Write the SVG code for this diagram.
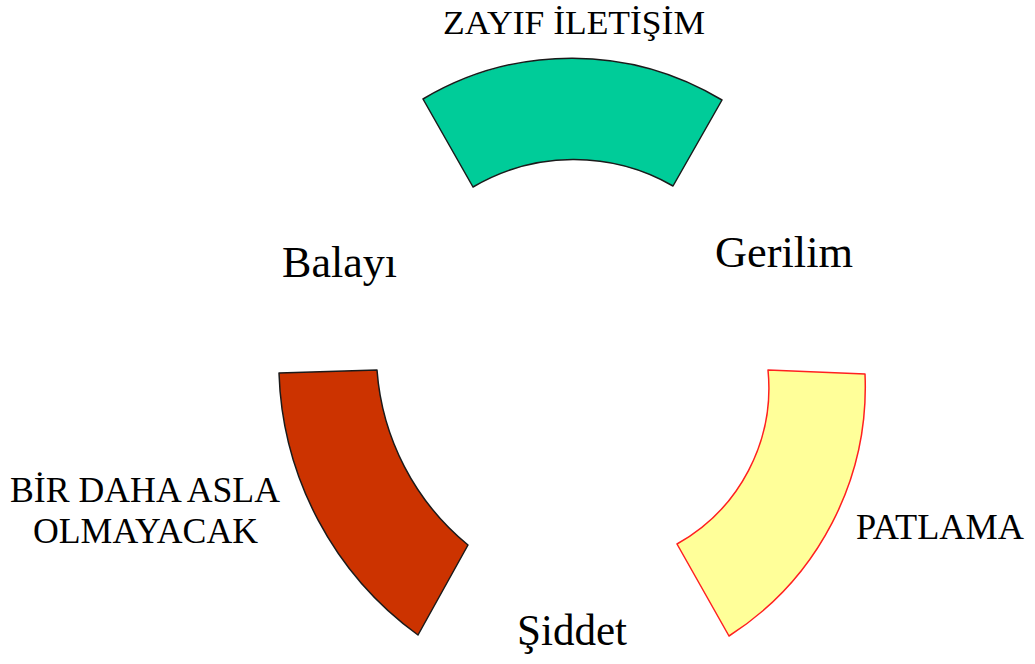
<svg xmlns="http://www.w3.org/2000/svg" width="1035" height="664" viewBox="0 0 1035 664">
<style>
.t{font-family:"Liberation Serif","Times New Roman",serif;fill:#000}
.seg{stroke-width:1.5;stroke-linejoin:round}
</style>
<rect width="1035" height="664" fill="#fff"/>
<g id="zayif-iletisim">
<path class="seg" d="M423,99 A291,291 0 0 1 722,100 L673,186 A199,199 0 0 0 473,187 Z" fill="#00CC99" stroke="#1a1a1a"/>
<text class="t" x="443" y="34" font-size="33" textLength="262" lengthAdjust="spacingAndGlyphs">ZAYIF İLETİŞİM</text>
</g>
<g id="patlama">
<path class="seg" d="M768,370 L865,374 A296,296 0 0 1 729,636 L677,544 A179,179 0 0 0 768,370 Z" fill="#FFFF99" stroke="#FF2020"/>
<text class="t" x="856" y="539" font-size="35" textLength="168" lengthAdjust="spacingAndGlyphs">PATLAMA</text>
</g>
<g id="bir-daha-asla">
<path class="seg" d="M279,373 A337,337 0 0 0 418,635 L468,545 A250,250 0 0 1 377,370 Z" fill="#CC3300" stroke="#1a1a1a"/>
<text class="t" x="10" y="502" font-size="35" textLength="270" lengthAdjust="spacingAndGlyphs">BİR DAHA ASLA</text>
<text class="t" x="33" y="543" font-size="35" textLength="225" lengthAdjust="spacingAndGlyphs">OLMAYACAK</text>
</g>
<g id="balayi">
<text class="t" x="282" y="277" font-size="45" textLength="115" lengthAdjust="spacingAndGlyphs">Balayı</text>
</g>
<g id="gerilim">
<text class="t" x="715" y="267" font-size="45" textLength="138" lengthAdjust="spacingAndGlyphs">Gerilim</text>
</g>
<g id="siddet">
<text class="t" x="517" y="645" font-size="44" textLength="110" lengthAdjust="spacingAndGlyphs">Şiddet</text>
</g>
<g id="connectors"></g>
</svg>
